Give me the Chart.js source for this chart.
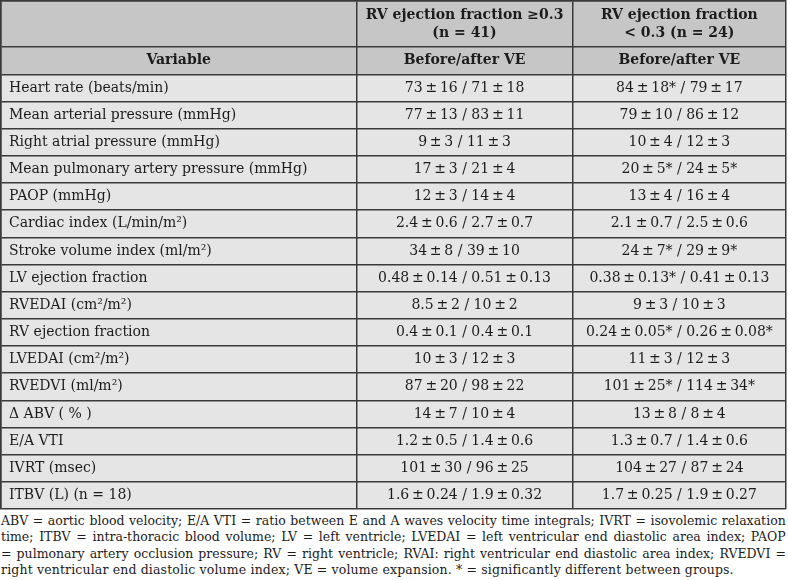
<!DOCTYPE html>
<html>
<head>
<meta charset="utf-8">
<script src="https://cdn.jsdelivr.net/npm/chart.js@4.4.1/dist/chart.umd.min.js"></script>
<style>
  html, body { margin: 0; padding: 0; background: #ffffff; }
  #wrap { position: relative; width: 788px; height: 510px; }
  #foot { position: absolute; left: 1px; top: 513px; width: 785px;
          font-family: "DejaVu Serif", serif; font-size: 12.5px; line-height: 16.4px; color: #1c1c1c; }
  #foot div.line { display: flex; justify-content: space-between; white-space: nowrap; }
  #foot div.last { white-space: nowrap; letter-spacing: 0.15px; }
</style>
</head>
<body>
<div id="wrap"><canvas id="c"></canvas></div>
<div id="foot"></div>
<script>
// ---------------- data ----------------
const variables = [
  "Heart rate (beats/min)",
  "Mean arterial pressure (mmHg)",
  "Right atrial pressure (mmHg)",
  "Mean pulmonary artery pressure (mmHg)",
  "PAOP (mmHg)",
  "Cardiac index (L/min/m\u00B2)",
  "Stroke volume index (ml/m\u00B2)",
  "LV ejection fraction",
  "RVEDAI (cm\u00B2/m\u00B2)",
  "RV ejection fraction",
  "LVEDAI (cm\u00B2/m\u00B2)",
  "RVEDVI (ml/m\u00B2)",
  "\u0394 ABV ( % )",
  "E/A VTI",
  "IVRT (msec)",
  "ITBV (L) (n = 18)"
];
const firstColumnHeader = "Variable";
const groupHeaders = [
  ["RV ejection fraction \u22650.3", "(n = 41)"],
  ["RV ejection fraction", "< 0.3 (n = 24)"]
];
const subHeader = "Before/after VE";

// RV ejection fraction >= 0.3 (n = 41)
const hiBeforeMean = [73, 77, 9, 17, 12, 2.4, 34, 0.48, 8.5, 0.4, 10, 87, 14, 1.2, 101, 1.6];
const hiBeforeSD   = [16, 13, 3, 3, 3, 0.6, 8, 0.14, 2, 0.1, 3, 20, 7, 0.5, 30, 0.24];
const hiAfterMean  = [71, 83, 11, 21, 14, 2.7, 39, 0.51, 10, 0.4, 12, 98, 10, 1.4, 96, 1.9];
const hiAfterSD    = [18, 11, 3, 4, 4, 0.7, 10, 0.13, 2, 0.1, 3, 22, 4, 0.6, 25, 0.32];
// RV ejection fraction < 0.3 (n = 24)
const loBeforeMean = [84, 79, 10, 20, 13, 2.1, 24, 0.38, 9, 0.24, 11, 101, 13, 1.3, 104, 1.7];
const loBeforeSD   = [18, 10, 4, 5, 4, 0.7, 7, 0.13, 3, 0.05, 3, 25, 8, 0.7, 27, 0.25];
const loAfterMean  = [79, 86, 12, 24, 16, 2.5, 29, 0.41, 10, 0.26, 12, 114, 8, 1.4, 87, 1.9];
const loAfterSD    = [17, 12, 3, 5, 4, 0.6, 9, 0.13, 3, 0.08, 3, 34, 4, 0.6, 24, 0.27];
// significance flags (* = significantly different between groups)
const loBeforeSig  = [1, 0, 0, 1, 0, 0, 1, 1, 0, 1, 0, 1, 0, 0, 0, 0];
const loAfterSig   = [0, 0, 0, 1, 0, 0, 1, 0, 0, 1, 0, 1, 0, 0, 0, 0];

const footnoteLines = [
  "ABV = aortic blood velocity; E/A VTI = ratio between E and A waves velocity time integrals; IVRT = isovolemic relaxation",
  "time; ITBV = intra-thoracic blood volume; LV = left ventricle; LVEDAI = left ventricular end diastolic area index; PAOP",
  "= pulmonary artery occlusion pressure; RV = right ventricle; RVAI: right ventricular end diastolic area index; RVEDVI =",
  "right ventricular end diastolic volume index; VE = volume expansion. * = significantly different between groups."
];

// ---------------- layout (scale units) ----------------
const COL_EDGES = [0, 0.4527, 0.7283, 1];          // column boundaries on x scale
const HEADER1 = 1.7, HEADER2 = 1.0, BODY = 1.0;      // row heights on y scale
const ROW_EDGES = [0, HEADER1, HEADER1 + HEADER2];
variables.forEach(() => ROW_EDGES.push(ROW_EDGES[ROW_EDGES.length - 1] + BODY));
const Y_MAX = ROW_EDGES[ROW_EDGES.length - 1];

const TH = "\u2009";
function fmt(m, sd, sig) { return m + TH + "\u00B1" + TH + sd + (sig ? "*" : ""); }
const hiCells = variables.map((_, i) => fmt(hiBeforeMean[i], hiBeforeSD[i], 0) + " / " + fmt(hiAfterMean[i], hiAfterSD[i], 0));
const loCells = variables.map((_, i) => fmt(loBeforeMean[i], loBeforeSD[i], loBeforeSig[i]) + " / " + fmt(loAfterMean[i], loAfterSD[i], loAfterSig[i]));

const HEADER_BG = "#c6c6c6", BODY_BG = "#e5e5e5", LINE = "#3a3a3a", INK = "#1c1c1c";
const REG = '14px "DejaVu Serif"', BOLD = 'bold 14px "DejaVu Serif"';

const tablePlugin = {
  id: "tableCells",
  beforeDraw(chart) {
    const { ctx, scales: { x, y } } = chart;
    const x0 = x.getPixelForValue(0), x1 = x.getPixelForValue(1);
    ctx.save();
    ctx.fillStyle = HEADER_BG;
    ctx.fillRect(x0, y.getPixelForValue(0), x1 - x0, y.getPixelForValue(ROW_EDGES[2]) - y.getPixelForValue(0));
    ctx.fillStyle = BODY_BG;
    ctx.fillRect(x0, y.getPixelForValue(ROW_EDGES[2]), x1 - x0, y.getPixelForValue(Y_MAX) - y.getPixelForValue(ROW_EDGES[2]));
    ctx.restore();
  },
  afterDraw(chart) {
    const { ctx, scales: { x, y } } = chart;
    const colMid = c => x.getPixelForValue((COL_EDGES[c] + COL_EDGES[c + 1]) / 2);
    const rowMid = r => y.getPixelForValue((ROW_EDGES[r] + ROW_EDGES[r + 1]) / 2);
    ctx.save();
    ctx.fillStyle = INK;
    ctx.textBaseline = "middle";
    // header row 1
    ctx.font = BOLD; ctx.textAlign = "center";
    const h1 = rowMid(0);
    groupHeaders.forEach((lines, g) => {
      ctx.fillText(lines[0], colMid(g + 1), h1 - 9);
      ctx.fillText(lines[1], colMid(g + 1), h1 + 9);
    });
    // header row 2
    const h2 = rowMid(1);
    ctx.fillText(firstColumnHeader, colMid(0), h2);
    ctx.fillText(subHeader, colMid(1), h2);
    ctx.fillText(subHeader, colMid(2), h2);
    // body
    ctx.font = REG;
    variables.forEach((v, i) => {
      const yy = rowMid(i + 2);
      ctx.textAlign = "left";
      ctx.fillText(v, x.getPixelForValue(COL_EDGES[0]) + 8, yy);
      ctx.textAlign = "center";
      ctx.fillText(hiCells[i], colMid(1), yy);
      ctx.fillText(loCells[i], colMid(2), yy);
    });
    ctx.restore();
  }
};

const gridOpts = { color: LINE, lineWidth: 1.5, drawTicks: false, drawOnChartArea: true };
new Chart(document.getElementById("c"), {
  type: "scatter",
  data: { datasets: [{ data: [], pointRadius: 0 }] },
  options: {
    responsive: true, maintainAspectRatio: false, animation: false,
    events: [],
    layout: { padding: { left: 1, right: 2, top: 1, bottom: 1 } },
    plugins: { legend: { display: false }, tooltip: { enabled: false } },
    scales: {
      x: {
        type: "linear", position: "top", min: 0, max: 1,
        grid: gridOpts, border: { display: true, color: LINE, width: 1.5 },
        ticks: { display: false },
        afterBuildTicks: s => { s.ticks = COL_EDGES.map(v => ({ value: v })); }
      },
      y: {
        type: "linear", reverse: true, min: 0, max: Y_MAX,
        grid: gridOpts, border: { display: true, color: LINE, width: 1.5 },
        ticks: { display: false },
        afterBuildTicks: s => { s.ticks = ROW_EDGES.map(v => ({ value: v })); }
      }
    }
  },
  plugins: [tablePlugin]
});

const foot = document.getElementById("foot");
footnoteLines.forEach((t, i) => {
  const d = document.createElement("div");
  if (i === footnoteLines.length - 1) {
    d.className = "last";
    d.textContent = t;
  } else {
    d.className = "line";
    t.split(" ").forEach(w => {
      const s = document.createElement("span");
      s.textContent = w;
      d.appendChild(s);
    });
  }
  foot.appendChild(d);
});
</script>
</body>
</html>
